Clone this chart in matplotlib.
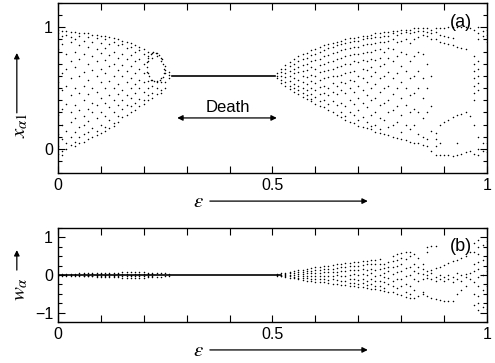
import numpy as np
import matplotlib
matplotlib.use("Agg")
import matplotlib.pyplot as plt
from matplotlib.ticker import MultipleLocator, FixedLocator
from matplotlib.patches import FancyArrowPatch

plt.rcParams['font.family'] = ['Liberation Sans', 'DejaVu Sans']
plt.rcParams['mathtext.fontset'] = 'stix'

# ---------------- panel (a): x_alpha1 ----------------
eps_a_left = [0.00, 0.01, 0.02, 0.03, 0.04, 0.05, 0.06, 0.07, 0.08, 0.09, 0.10,
              0.11, 0.12, 0.13, 0.14, 0.15, 0.16, 0.17, 0.18, 0.19, 0.20,
              0.21, 0.22, 0.23, 0.24, 0.25, 0.26]
xa_left = [
    [0.98, 0.95, 0.82, 0.7, 0.55, 0.4, 0.28, 0.12, 0.02, -0.04],
    [0.97, 0.93, 0.86, 0.62, 0.48, 0.33, 0.2, 0.08, -0.02, -0.05],
    [0.97, 0.94, 0.78, 0.66, 0.52, 0.37, 0.15, 0.05, 0.0],
    [0.96, 0.92, 0.88, 0.72, 0.58, 0.44, 0.3, 0.22, 0.1, 0.03],
    [0.96, 0.9, 0.8, 0.67, 0.5, 0.36, 0.25, 0.14, 0.06, 0.02],
    [0.95, 0.93, 0.85, 0.74, 0.6, 0.46, 0.32, 0.18, 0.1, 0.05],
    [0.95, 0.89, 0.78, 0.63, 0.52, 0.4, 0.27, 0.2, 0.12, 0.06],
    [0.95, 0.92, 0.84, 0.7, 0.57, 0.45, 0.33, 0.23, 0.14, 0.08],
    [0.94, 0.88, 0.76, 0.65, 0.5, 0.38, 0.3, 0.17, 0.1],
    [0.94, 0.91, 0.82, 0.72, 0.6, 0.47, 0.36, 0.25, 0.15, 0.11],
    [0.93, 0.87, 0.79, 0.66, 0.55, 0.42, 0.3, 0.2, 0.13],
    [0.93, 0.9, 0.83, 0.73, 0.62, 0.5, 0.38, 0.27, 0.18, 0.15],
    [0.92, 0.86, 0.77, 0.68, 0.56, 0.44, 0.34, 0.24, 0.17],
    [0.91, 0.88, 0.8, 0.7, 0.6, 0.5, 0.4, 0.3, 0.21, 0.19],
    [0.9, 0.85, 0.75, 0.65, 0.53, 0.45, 0.36, 0.27, 0.22],
    [0.89, 0.86, 0.78, 0.69, 0.6, 0.48, 0.4, 0.33, 0.26],
    [0.88, 0.83, 0.74, 0.64, 0.55, 0.44, 0.36, 0.28],
    [0.87, 0.84, 0.77, 0.68, 0.58, 0.5, 0.42, 0.35, 0.3],
    [0.85, 0.8, 0.72, 0.62, 0.53, 0.46, 0.38, 0.32],
    [0.84, 0.81, 0.74, 0.66, 0.57, 0.5, 0.41, 0.35],
    [0.82, 0.78, 0.7, 0.62, 0.55, 0.47, 0.4, 0.37],
    [0.8, 0.76, 0.72, 0.62, 0.56, 0.5, 0.44, 0.4],
    [0.79, 0.75, 0.57, 0.52, 0.46, 0.42],
    [0.79, 0.76, 0.56, 0.5, 0.45],
    [0.75, 0.72, 0.58, 0.55, 0.48, 0.46],
    [0.68, 0.65, 0.62, 0.55, 0.5],
    [0.63, 0.61, 0.58],
]
eps_a_loop = [0.207, 0.208, 0.211, 0.216, 0.222, 0.229, 0.236, 0.242, 0.246,
              0.248, 0.247, 0.244, 0.239, 0.232, 0.225, 0.218, 0.212, 0.208]
xa_loop = [0.67, 0.71, 0.75, 0.78, 0.795, 0.79, 0.77, 0.74, 0.70,
           0.66, 0.62, 0.59, 0.565, 0.553, 0.555, 0.57, 0.60, 0.635]

death_eps = [0.265, 0.505]
death_x = [0.6, 0.6]

eps_a_right = [round(0.51 + 0.01 * i, 2) for i in range(50)]
xa_right = [
    [0.62, 0.6, 0.58],
    [0.66, 0.63, 0.6, 0.57, 0.54],
    [0.69, 0.66, 0.62, 0.59, 0.55, 0.52],
    [0.71, 0.68, 0.64, 0.6, 0.56, 0.52, 0.49],
    [0.74, 0.7, 0.66, 0.62, 0.58, 0.53, 0.5, 0.47],
    [0.76, 0.72, 0.67, 0.63, 0.57, 0.52, 0.48, 0.45],
    [0.78, 0.74, 0.69, 0.64, 0.6, 0.55, 0.5, 0.46, 0.43],
    [0.79, 0.75, 0.7, 0.65, 0.59, 0.53, 0.48, 0.44, 0.41],
    [0.81, 0.77, 0.72, 0.67, 0.61, 0.56, 0.5, 0.45, 0.41, 0.39],
    [0.82, 0.78, 0.73, 0.66, 0.6, 0.54, 0.48, 0.43, 0.37],
    [0.84, 0.8, 0.74, 0.69, 0.63, 0.57, 0.51, 0.45, 0.39, 0.35],
    [0.85, 0.81, 0.76, 0.7, 0.64, 0.58, 0.52, 0.46, 0.4, 0.34],
    [0.86, 0.83, 0.77, 0.71, 0.65, 0.59, 0.5, 0.44, 0.37, 0.32],
    [0.87, 0.84, 0.79, 0.72, 0.66, 0.6, 0.54, 0.47, 0.39, 0.3],
    [0.88, 0.85, 0.8, 0.74, 0.67, 0.6, 0.52, 0.45, 0.36, 0.28],
    [0.89, 0.86, 0.81, 0.75, 0.68, 0.61, 0.55, 0.48, 0.38, 0.3, 0.26],
    [0.9, 0.87, 0.82, 0.76, 0.7, 0.62, 0.54, 0.46, 0.35, 0.27, 0.24],
    [0.91, 0.88, 0.83, 0.77, 0.7, 0.63, 0.57, 0.5, 0.4, 0.3, 0.22],
    [0.91, 0.89, 0.84, 0.78, 0.72, 0.64, 0.56, 0.47, 0.37, 0.28, 0.21],
    [0.92, 0.89, 0.84, 0.78, 0.71, 0.6, 0.52, 0.42, 0.32, 0.24, 0.19],
    [0.93, 0.9, 0.85, 0.79, 0.73, 0.66, 0.58, 0.48, 0.38, 0.26, 0.18],
    [0.93, 0.91, 0.86, 0.8, 0.72, 0.65, 0.55, 0.44, 0.34, 0.22, 0.17],
    [0.94, 0.91, 0.86, 0.8, 0.74, 0.67, 0.6, 0.5, 0.4, 0.28, 0.19, 0.16],
    [0.95, 0.92, 0.87, 0.81, 0.73, 0.63, 0.53, 0.42, 0.3, 0.2, 0.14],
    [0.95, 0.92, 0.88, 0.82, 0.75, 0.68, 0.58, 0.47, 0.36, 0.25, 0.16, 0.13],
    [0.96, 0.93, 0.88, 0.8, 0.7, 0.6, 0.5, 0.38, 0.24, 0.12],
    [0.96, 0.93, 0.89, 0.83, 0.75, 0.63, 0.52, 0.4, 0.3, 0.18, 0.11],
    [0.97, 0.95, 0.9, 0.82, 0.72, 0.58, 0.45, 0.32, 0.2, 0.1],
    [0.97, 0.94, 0.88, 0.76, 0.62, 0.5, 0.35, 0.22, 0.09],
    [0.98, 0.95, 0.89, 0.8, 0.68, 0.55, 0.42, 0.28, 0.14, 0.08],
    [0.98, 0.96, 0.9, 0.78, 0.64, 0.5, 0.36, 0.2, 0.07],
    [0.98, 0.95, 0.87, 0.72, 0.58, 0.44, 0.3, 0.16, 0.06],
    [0.99, 0.96, 0.9, 0.76, 0.6, 0.46, 0.33, 0.2, 0.05],
    [0.99, 0.97, 0.92, 0.8, 0.64, 0.5, 0.3, 0.12, 0.05],
    [0.99, 0.97, 0.94, 0.78, 0.58, 0.42, 0.25, 0.1, 0.03],
    [0.99, 0.96, 0.93, 0.7, 0.5, 0.3, 0.08, 0.02],
    [0.98, 0.95, 0.9, 0.6, 0.35, 0.15, -0.02],
    [0.99, 0.96, 0.9, 0.13, 0.08, 0.02, -0.05],
    [0.99, 0.94, 0.88, 0.2, 0.05, -0.05],
    [0.99, 0.93, 0.87, 0.22, -0.05],
    [1.0, 0.92, 0.86, 0.24, -0.05],
    [1.0, 0.91, 0.85, 0.26, -0.06],
    [1.0, 0.84, 0.28, 0.05, -0.05],
    [1.0, 0.83, 0.29, -0.04],
    [1.0, 0.82, 0.3, -0.03],
    [0.99, 0.27, -0.02],
    [0.98, 0.76, 0.7, 0.64, 0.58, 0.52, 0.46, 0.4, 0.2, -0.04],
    [1.0, 0.95, 0.9, 0.72, 0.66, 0.6, 0.54, 0.48, 0.1, 0.0, -0.05],
    [0.97, 0.93, 0.05, -0.02],
    [0.98, 0.94, 0.88, 0.5, 0.3, 0.05, -0.03],
]

# ---------------- panel (b): w_alpha ----------------
eps_b_left = [0.00, 0.01, 0.02, 0.03, 0.04, 0.05, 0.06, 0.07, 0.08, 0.09, 0.10,
              0.11, 0.12, 0.13, 0.14, 0.15, 0.16, 0.17, 0.18, 0.19, 0.20,
              0.21, 0.22, 0.23, 0.24, 0.25, 0.26]
wb_left = [
    [0.02, 0.0, -0.02], [0.02, -0.01, -0.02], [0.03, 0.01, -0.02],
    [0.03, -0.01, -0.03], [0.03, 0.01, -0.03], [0.04, 0.0, -0.03],
    [0.04, 0.02, -0.02, -0.04], [0.04, 0.01, -0.03, -0.04],
    [0.05, 0.02, -0.02, -0.04], [0.05, 0.0, -0.03, -0.05],
    [0.05, 0.02, -0.02, -0.05], [0.05, 0.01, -0.03, -0.05],
    [0.06, 0.02, -0.02, -0.06], [0.06, 0.0, -0.03, -0.06],
    [0.06, 0.03, -0.02, -0.06], [0.07, 0.02, -0.03, -0.07],
    [0.07, 0.03, -0.02, -0.07], [0.07, 0.01, -0.04, -0.07],
    [0.07, 0.03, -0.03, -0.07], [0.07, 0.02, -0.02, -0.07],
    [0.07, 0.03, -0.03, -0.07], [0.06, 0.02, -0.02, -0.06],
    [0.06, 0.03, -0.03, -0.06], [0.06, -0.06], [0.05, -0.05],
    [0.04, -0.04], [0.02, -0.02],
]
zero_eps = [0.0, 0.52]
zero_w = [0.0, 0.0]

eps_b_right = [round(0.51 + 0.01 * i, 2) for i in range(50)]
wb_right = [
    [0.02, 0.0, -0.02],
    [0.04, 0.01, -0.02, -0.04],
    [0.06, 0.03, 0.0, -0.03, -0.06],
    [0.08, 0.04, 0.01, -0.03, -0.07],
    [0.1, 0.05, 0.0, -0.05, -0.09],
    [0.12, 0.07, 0.02, -0.03, -0.08, -0.11],
    [0.14, 0.08, 0.03, -0.03, -0.09, -0.13],
    [0.16, 0.1, 0.04, -0.02, -0.09, -0.15],
    [0.18, 0.11, 0.04, -0.04, -0.11, -0.17],
    [0.2, 0.13, 0.06, -0.02, -0.1, -0.18],
    [0.21, 0.14, 0.06, -0.03, -0.12, -0.19],
    [0.23, 0.15, 0.07, -0.02, -0.1, -0.2],
    [0.24, 0.16, 0.07, -0.03, -0.13, -0.22],
    [0.26, 0.17, 0.08, -0.02, -0.12, -0.23],
    [0.28, 0.19, 0.09, -0.01, -0.14, -0.24],
    [0.29, 0.2, 0.1, -0.03, -0.15, -0.26],
    [0.31, 0.21, 0.1, -0.02, -0.16, -0.27],
    [0.33, 0.23, 0.12, 0.0, -0.12, -0.22, -0.29],
    [0.34, 0.24, 0.13, 0.02, -0.1, -0.21, -0.3],
    [0.35, 0.25, 0.12, -0.01, -0.14, -0.24, -0.32],
    [0.37, 0.27, 0.15, 0.03, -0.1, -0.22, -0.33],
    [0.38, 0.28, 0.14, 0.0, -0.15, -0.26, -0.35],
    [0.4, 0.3, 0.17, 0.04, -0.1, -0.25, -0.37],
    [0.41, 0.28, 0.12, -0.02, -0.16, -0.3, -0.38],
    [0.42, 0.3, 0.15, 0.0, -0.15, -0.28, -0.4],
    [0.3, 0.18, 0.05, -0.05, -0.2, -0.35, -0.42],
    [0.35, 0.22, 0.1, -0.08, -0.25, -0.44],
    [0.5, 0.38, 0.2, 0.02, -0.15, -0.3, -0.46],
    [0.55, 0.4, 0.25, 0.08, -0.12, -0.35, -0.5],
    [0.58, 0.45, 0.3, 0.1, -0.1, -0.3, -0.52],
    [0.6, 0.42, 0.18, -0.02, -0.25, -0.45, -0.58],
    [0.62, 0.5, 0.2, 0.0, -0.3, -0.5, -0.6],
    [0.55, 0.3, 0.1, -0.1, -0.4, -0.62],
    [0.45, 0.2, 0.05, -0.15, -0.55],
    [0.3, 0.15, 0.02, -0.1, -0.45, -0.5],
    [0.75, 0.6, 0.1, 0.0, -0.08, -0.55],
    [0.76, 0.13, 0.05, -0.1, -0.6],
    [0.76, 0.18, -0.05, -0.15, -0.63],
    [0.22, 0.0, -0.1, -0.66],
    [0.27, -0.05, -0.15, -0.68],
    [0.32, 0.0, -0.1, -0.7],
    [0.36, -0.05, -0.18, -0.7],
    [0.4, 0.05, -0.1, -0.5],
    [0.45, 0.0, -0.15, -0.4],
    [0.5, 0.02, -0.05, -0.3],
    [0.6, 0.05, -0.1],
    [0.85, 0.6, 0.3, 0.1, -0.2, -0.5, -0.8],
    [0.93, 0.75, 0.55, 0.35, 0.15, -0.05, -0.3, -0.55, -0.75, -0.93],
    [0.8, 0.4, 0.0, -0.4, -0.85],
    [0.9, 0.5, 0.1, -0.3, -0.9],
]


def flatten(eps_list, cols):
    ex, yy = [], []
    for e, col in zip(eps_list, cols):
        ex.extend([e] * len(col))
        yy.extend(col)
    return ex, yy


fig = plt.figure(figsize=(4.95, 3.63), dpi=100)
axa = fig.add_axes([0.117, 0.523, 0.867, 0.469])
axb = fig.add_axes([0.117, 0.113, 0.867, 0.259])

dot = dict(linestyle='none', marker='o', markersize=1.1, color='black',
           markeredgewidth=0)

for e, c in [(eps_a_left, xa_left), (eps_a_right, xa_right)]:
    ex, yy = flatten(e, c)
    axa.plot(ex, yy, **dot)
axa.plot(eps_a_loop, xa_loop, **dot)
axa.plot(death_eps, death_x, color='black', lw=1.2)

for e, c in [(eps_b_left, wb_left), (eps_b_right, wb_right)]:
    ex, yy = flatten(e, c)
    axb.plot(ex, yy, **dot)
axb.plot(zero_eps, zero_w, color='black', lw=1.2)

axa.set_xlim(0, 1)
axa.set_ylim(-0.2, 1.2)
axb.set_xlim(0, 1)
axb.set_ylim(-1.25, 1.25)

for ax in (axa, axb):
    ax.tick_params(direction='in', top=True, right=True, which='both',
                   labelsize=11.5, width=0.8)
    ax.tick_params(which='major', length=5)
    ax.tick_params(which='minor', length=3)
    for s in ax.spines.values():
        s.set_linewidth(1.0)
    ax.set_xticks([0, 0.1, 0.2, 0.3, 0.4, 0.5, 0.6, 0.7, 0.8, 0.9, 1.0])
    ax.set_xticklabels(['0', '', '', '', '', '0.5', '', '', '', '', '1'])

axa.yaxis.set_major_locator(FixedLocator([0, 1]))
axa.yaxis.set_minor_locator(MultipleLocator(0.1))
axa.set_yticklabels(['0', '1'])
axb.yaxis.set_major_locator(FixedLocator([-1, 0, 1]))
axb.yaxis.set_minor_locator(MultipleLocator(0.25))
axb.set_yticklabels(['\u22121', '0', '1'])

axa.text(0.94, 1.04, '(a)', fontsize=13, ha='center', va='center')
axb.text(0.94, 0.75, '(b)', fontsize=13, ha='center', va='center')

axa.text(0.395, 0.34, 'Death', fontsize=12, ha='center', va='center')
axa.annotate('', xy=(0.278, 0.254), xytext=(0.51, 0.254),
             arrowprops=dict(arrowstyle='<|-|>', color='black', lw=0.9,
                             mutation_scale=8, shrinkA=0, shrinkB=0))

arrow_kw = dict(arrowstyle='-|>', color='black', lw=0.9, mutation_scale=8,
                shrinkA=0, shrinkB=0)
# x-axis labels with arrows
fig.text(0.40, 0.444, r'$\varepsilon$', fontsize=15, ha='center', va='center')
fig.add_artist(FancyArrowPatch(
    (0.424, 0.446), (0.743, 0.446), transform=fig.transFigure, **arrow_kw))
fig.text(0.40, 0.034, r'$\varepsilon$', fontsize=15, ha='center', va='center')
fig.add_artist(FancyArrowPatch(
    (0.424, 0.036), (0.743, 0.036), transform=fig.transFigure, **arrow_kw))

# y-axis labels with arrows
fig.text(0.042, 0.655, r'$x_{\alpha 1}$', fontsize=15, rotation=90,
         ha='center', va='center')
fig.add_artist(FancyArrowPatch(
    (0.034, 0.689), (0.034, 0.854), transform=fig.transFigure, **arrow_kw))
fig.text(0.042, 0.205, r'$w_{\alpha}$', fontsize=15, rotation=90,
         ha='center', va='center')
fig.add_artist(FancyArrowPatch(
    (0.034, 0.256), (0.034, 0.311), transform=fig.transFigure, **arrow_kw))

fig.savefig('out.png', dpi=100)
